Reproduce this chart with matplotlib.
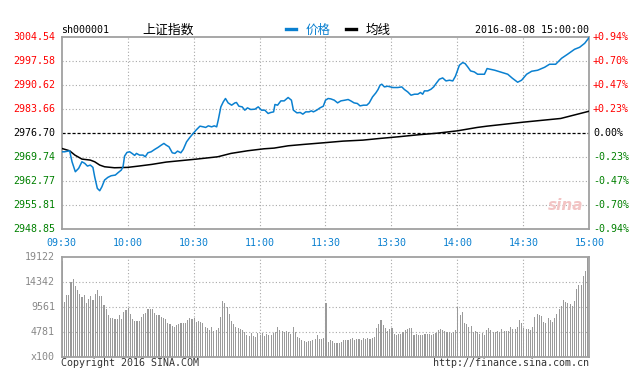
import matplotlib
matplotlib.use("Agg")
import matplotlib.pyplot as plt
from matplotlib.lines import Line2D

# ---------------- data ----------------
prev_close = 2976.70
price_ticks = [2948.85, 2955.81, 2962.77, 2969.74, 2976.70, 2983.66, 2990.62, 2997.58, 3004.54]
time_labels = ["09:30", "10:00", "10:30", "11:00", "11:30", "13:30", "14:00", "14:30", "15:00"]
time_ticks = [0, 30, 60, 90, 120, 150, 180, 210, 240]

price_min = [0, 1.3, 3.6, 4.7, 6.2, 7.7, 9.2, 10.5, 11.7, 13, 14.2, 15, 16.2, 17.3, 18.3, 19.5, 21, 22.5,
             24.4, 25.6, 27.1, 27.9, 28.6, 29.7, 30.9, 32, 33.2, 34, 35.4, 37, 38, 39.2, 40.7, 42.3, 43.8,
             45.3, 46.5, 47.5, 48.8, 50.3, 51.5, 52.7, 54.2, 55.3, 56.8, 58.3, 59.8, 61.4, 62.9, 64.4, 65.5,
             66.7, 68.2, 69.4, 70.5, 71.2, 72.4, 73.5, 74.5, 75.7, 77.3, 78.8, 79.5, 80.6, 82.1, 83.3, 84.5,
             86, 87.9, 89.4, 90.9, 92.4, 93.9, 95.1, 96.4, 97, 98.2, 99.7, 101.2, 103, 104.5, 105.4, 107,
             108.5, 109.7, 111, 112.5, 113.6, 114.5, 116, 117.5, 119, 120, 121.2, 122.4, 124, 125.5, 127,
             128.8, 130.3, 131.5, 133, 134.5, 135.7, 137.3, 138.8, 139.9, 141.4, 142.9, 143.9, 144.8, 145.6,
             146.8, 148.3, 150.6, 152.9, 154.7, 155.9, 157.4, 158.9, 160.5, 162, 163.2, 164.2, 165, 166.5,
             168, 169.2, 170.3, 171.8, 173.3, 174.8, 176.4, 177.9, 179.1, 180.1, 180.9, 182.4, 183.5, 184.7,
             186, 187.7, 189.2, 190.8, 192.3, 193.5, 197, 200, 202.9, 205, 207.4, 209.2, 211.5, 213.8,
             216.5, 219.7, 221.9, 224.7, 227.4, 230.1, 233.3, 235.6, 237.9, 240]
price_val = [2971.28, 2971.28, 2971.57, 2968.38, 2965.48, 2966.46, 2968.38, 2967.91, 2967.13, 2967.42,
             2966.75, 2964.03, 2960.66, 2959.97, 2961.13, 2963.07, 2963.85, 2964.32, 2964.52, 2965.19,
             2965.97, 2966.93, 2970.03, 2971.10, 2971.28, 2970.81, 2970.23, 2970.81, 2970.32, 2970.32,
             2969.83, 2970.99, 2971.28, 2971.97, 2972.55, 2973.22, 2973.71, 2973.22, 2972.73, 2970.99,
             2970.81, 2971.48, 2970.99, 2971.97, 2974.18, 2975.45, 2976.61, 2977.77, 2978.73, 2978.53,
             2978.35, 2978.82, 2978.53, 2978.82, 2978.53, 2980.47, 2984.33, 2985.78, 2986.76, 2985.49,
             2984.82, 2985.49, 2985.60, 2984.53, 2984.33, 2983.37, 2984.04, 2983.57, 2983.66, 2984.33,
             2983.37, 2983.37, 2982.41, 2982.70, 2982.88, 2985.02, 2984.82, 2986.07, 2986.07, 2987.05,
             2986.27, 2983.37, 2982.59, 2982.70, 2982.21, 2982.88, 2982.88, 2983.17, 2982.88, 2983.37,
             2984.04, 2984.53, 2986.27, 2986.76, 2986.65, 2986.27, 2985.49, 2986.07, 2986.27, 2986.47,
             2986.07, 2985.49, 2985.31, 2984.62, 2984.82, 2984.82, 2985.49, 2987.23, 2988.39, 2989.37,
             2990.62, 2990.91, 2990.13, 2990.33, 2989.95, 2989.95, 2990.13, 2989.37, 2988.68, 2987.72,
             2988.01, 2988.01, 2988.50, 2988.01, 2988.97, 2988.97, 2989.46, 2990.13, 2991.11, 2992.36,
             2992.74, 2991.87, 2992.07, 2991.87, 2993.23, 2994.97, 2996.42, 2997.20, 2996.91, 2995.93,
             2994.77, 2994.48, 2993.81, 2993.81, 2993.81, 2995.46, 2994.97, 2994.39, 2993.81, 2992.65,
             2991.49, 2992.07, 2993.81, 2994.68, 2994.97, 2995.84, 2996.71, 2996.71, 2998.45, 2999.61,
             3001.06, 3001.64, 3002.80, 3004.54]

avg_min = [0, 3.6, 6, 9.2, 13, 15, 17.3, 19.5, 24, 30, 35, 41, 47.5, 61.4, 71, 77, 84.5, 92, 96.6, 103,
           110, 119, 128, 137, 144.8, 153, 162, 171, 180, 189, 193.5, 210, 227, 240]
avg_val = [2972.26, 2971.57, 2970.32, 2969.16, 2968.87, 2968.38, 2967.42, 2966.93, 2966.64, 2966.75,
           2967.13, 2967.62, 2968.29, 2969.16, 2969.83, 2970.81, 2971.57, 2972.15, 2972.35, 2973.02,
           2973.42, 2973.89, 2974.38, 2974.67, 2975.16, 2975.63, 2976.21, 2976.70, 2977.37, 2978.35,
           2978.73, 2979.89, 2980.96, 2983.08]

volume = [18472, 10632, 11913, 11913, 14342, 14915, 13634, 12869, 12047, 11588,
          11913, 10441, 11091, 11722, 10957, 12104, 12869, 11722, 11722, 10001,
          9179, 8089, 7458, 7458, 7324, 7324, 8089, 7324, 8605, 9045,
          9485, 8222, 7324, 6999, 6940, 6940, 7649, 8222, 8414, 9179,
          9243, 9179, 8414, 8089, 8089, 7764, 7458, 7266, 6616, 6368,
          5985, 5737, 6176, 6368, 6501, 6616, 6616, 7133, 7458, 7324,
          7458, 6808, 6999, 6808, 6501, 5737, 5545, 5220, 5737, 5029,
          5220, 5545, 7764, 10823, 10326, 9676, 8222, 6999, 6368, 5737,
          5545, 5412, 5220, 4781, 4264, 4130, 4717, 4073, 3939, 4589,
          4264, 4717, 4073, 4455, 4264, 4264, 4717, 4895, 5851, 5220,
          5029, 4895, 5093, 4781, 4455, 5851, 4895, 3939, 3633, 3308,
          3180, 2983, 3180, 3180, 3308, 3436, 4264, 3442, 3442, 3633,
          10441, 2983, 3308, 3180, 2792, 2792, 2792, 2919, 3308, 3308,
          3308, 3500, 3691, 3308, 3500, 3500, 3308, 3633, 3500, 3633,
          3436, 3633, 3825, 5545, 6368, 7133, 6176, 5673, 5093, 5348,
          5545, 4455, 4264, 4392, 4455, 4895, 5220, 5412, 5545, 5673,
          4264, 4392, 4264, 4264, 4264, 4392, 4455, 4455, 4264, 4392,
          4589, 5220, 5412, 5220, 5093, 4895, 4895, 4589, 4895, 5220,
          9561, 8089, 8605, 6501, 6368, 5851, 5985, 4895, 5029, 4895,
          4392, 4717, 4264, 5220, 5545, 5220, 4895, 4895, 5029, 4895,
          5348, 5093, 5093, 5029, 5737, 5348, 5348, 5851, 7133, 6616,
          5673, 5348, 5412, 5220, 5737, 7649, 8280, 8089, 7900, 6808,
          6616, 7458, 7133, 6808, 7458, 8280, 9179, 9816, 10957, 10517,
          10441, 10186, 9816, 10823, 13060, 13825, 13825, 15546, 16502, 19122]
vol_ticks = [4781, 9561, 14342, 19122]
vol_max = 19122

# ---------------- style ----------------
MONO = "DejaVu Sans Mono"
CJK = ["Noto Sans CJK SC", "DejaVu Sans"]
FS = 7.2
RED, GREEN, BLUE = "#FF0000", "#008000", "#0A80D0"
GRID = "#A8A8A8"
FRAME = "#A0A0A0"

W, H = 642, 382
fig = plt.figure(figsize=(W / 100, H / 100), dpi=100)

def fx(px):
    return px / W

def fy(py):
    return 1 - py / H

L, R = 61.7, 589.3
ax = fig.add_axes([fx(L), fy(229), fx(R - L), (229 - 37.3) / H])
axv = fig.add_axes([fx(L), fy(357.3), fx(R - L), (357.3 - 257.3) / H])

for a in (ax, axv):
    a.set_xlim(0, 240)
    for s in a.spines.values():
        s.set_color(FRAME)
        s.set_linewidth(1.3)
    a.tick_params(left=False, bottom=False, labelleft=False, labelbottom=False)
    for t in time_ticks[1:-1]:
        a.axvline(t, color=GRID, lw=0.8, ls=(0, (1, 2)), zorder=0)

# ----- price panel -----
ax.set_ylim(price_ticks[0], price_ticks[-1])
for p in price_ticks[1:-1]:
    if abs(p - prev_close) < 1e-6:
        ax.axhline(p, color="black", lw=0.9, ls=(0, (2.5, 1.5)), zorder=1)
    else:
        ax.axhline(p, color=GRID, lw=0.8, ls=(0, (1, 2)), zorder=0)

ax.plot(avg_min, avg_val, color="black", lw=1.1, zorder=3)
ax.plot(price_min, price_val, color=BLUE, lw=1.1, zorder=4)

ytr = ax.get_yaxis_transform()
for p in price_ticks:
    pct = (p - prev_close) / prev_close * 100
    if abs(p - prev_close) < 1e-6:
        c = "black"
        ptxt = "0.00%"
    elif p > prev_close:
        c = RED
        ptxt = f"+{pct:.2f}%"
    else:
        c = GREEN
        ptxt = f"{pct:.2f}%"
    ax.text(-0.0127, p, f"{p:.2f}", transform=ytr, ha="right", va="center",
            color=c, fontsize=FS, family=MONO)
    ax.text(1.007, p, ptxt, transform=ytr, ha="left", va="center",
            color=c, fontsize=FS, family=MONO)

xtr = ax.get_xaxis_transform()
for t, lab in zip(time_ticks, time_labels):
    ax.text(t, -0.073, lab, transform=xtr, ha="center", va="center",
            color=BLUE, fontsize=FS, family=MONO)

# sina watermark
ax.text(0.955, 0.12, "sina", transform=ax.transAxes, ha="center", va="center",
        color="#F2C4C4", fontsize=11, fontstyle="italic", fontweight="bold",
        family="DejaVu Sans", zorder=1)

# ----- volume panel -----
axv.set_ylim(0, vol_max)
for v in vol_ticks[:-1]:
    axv.axhline(v, color=GRID, lw=0.8, ls=(0, (1, 2)), zorder=0)
axv.bar(range(len(volume)), volume, width=0.5, color="#9A9A9A", align="edge", zorder=2)

vtr = axv.get_yaxis_transform()
for v in vol_ticks:
    axv.text(-0.0127, v, str(v), transform=vtr, ha="right", va="center",
             color="#888888", fontsize=FS, family=MONO)
axv.text(-0.0127, 0, "x100", transform=vtr, ha="right", va="center",
         color="#888888", fontsize=FS, family=MONO)

# ----- header & footer -----
fig.text(fx(61), fy(30), "sh000001", ha="left", va="center", fontsize=FS, family=MONO, color="black")
fig.text(fx(142), fy(30), "上证指数", ha="left", va="center", fontsize=9.3, family=CJK, color="black")
fig.add_artist(Line2D([fx(286), fx(296)], [fy(29.3)] * 2, color=BLUE, lw=2.4))
fig.text(fx(306), fy(30), "价格", ha="left", va="center", fontsize=9, family=CJK, color=BLUE)
fig.add_artist(Line2D([fx(346), fx(356)], [fy(29.3)] * 2, color="black", lw=2.4))
fig.text(fx(366), fy(30), "均线", ha="left", va="center", fontsize=9, family=CJK, color="black")
fig.text(fx(589), fy(30), "2016-08-08 15:00:00", ha="right", va="center", fontsize=FS, family=MONO,
         color="black")

fig.text(fx(61), fy(363), "Copyright 2016 SINA.COM", ha="left", va="center", fontsize=FS, family=MONO,
         color="#333333")
fig.text(fx(589), fy(363), "http://finance.sina.com.cn", ha="right", va="center", fontsize=FS,
         family=MONO, color="#333333")

fig.savefig("out.png", dpi=100, facecolor="white")
